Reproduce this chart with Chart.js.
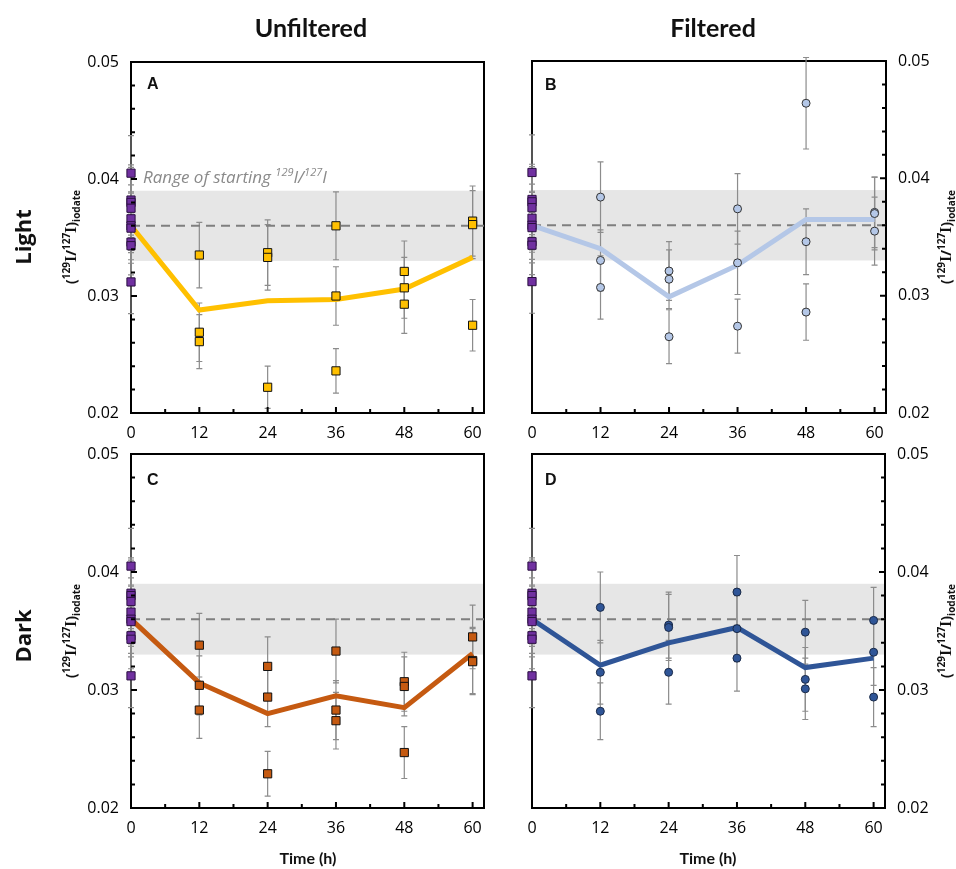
<!DOCTYPE html>
<html>
<head>
<meta charset="utf-8">
<script src="https://cdn.jsdelivr.net/npm/chart.js@4.4.1/dist/chart.umd.min.js"></script>
<style>
body { margin: 0; background: #fff; }
#fig { position: relative; width: 956px; height: 869px; overflow: hidden; font-family: 'Open Sans', sans-serif; color: #111; }
canvas { position: absolute; }
.t { position: absolute; white-space: nowrap; line-height: 1; transform: translate(-50%, -50%); }
.rot { transform: translate(-50%, -50%) rotate(-90deg); }
.head { font-family: Lato, sans-serif; font-weight: 700; font-size: 25px; }
.row { font-family: 'Open Sans', sans-serif; font-weight: 700; font-size: 22px; }
.ytitle { font-family: 'Open Sans', sans-serif; font-weight: 700; font-size: 14px; }
.ytitle sup, .ytitle sub { font-size: 10px; }
.ytitle .i { font-family: 'Liberation Serif', serif; font-size: 16px; }
.xtitle { font-family: Lato, sans-serif; font-weight: 700; font-size: 16px; }
.letter { position: absolute; font-family: 'Liberation Sans', Arial, sans-serif; font-weight: 700; font-size: 16px; line-height: 16px; }
.range { position: absolute; font-style: italic; font-size: 17px; color: #8a8a8a; line-height: 1; white-space: nowrap; }
.range sup { font-size: 11px; }
</style>
</head>
<body>
<div id="fig">
  <canvas id="cA" width="500" height="420" style="left:0;top:40px"></canvas>
  <canvas id="cB" width="456" height="421" style="left:500px;top:39px"></canvas>
  <canvas id="cC" width="500" height="423" style="left:0;top:432px"></canvas>
  <canvas id="cD" width="456" height="423" style="left:500px;top:432px"></canvas>

  <div class="t head" style="left:311px;top:27px">Unfiltered</div>
  <div class="t head" style="left:713px;top:27px">Filtered</div>
  <div class="t row rot" style="left:22px;top:237px">Light</div>
  <div class="t row rot" style="left:22px;top:636px">Dark</div>

  <div class="t ytitle rot" style="left:71px;top:237px">(<sup>129</sup><span class="i">I</span>/<sup>127</sup><span class="i">I</span>)<sub>iodate</sub></div>
  <div class="t ytitle rot" style="left:71px;top:631px">(<sup>129</sup><span class="i">I</span>/<sup>127</sup><span class="i">I</span>)<sub>iodate</sub></div>
  <div class="t ytitle rot" style="left:946px;top:237px">(<sup>129</sup><span class="i">I</span>/<sup>127</sup><span class="i">I</span>)<sub>iodate</sub></div>
  <div class="t ytitle rot" style="left:946px;top:631px">(<sup>129</sup><span class="i">I</span>/<sup>127</sup><span class="i">I</span>)<sub>iodate</sub></div>

  <div class="t xtitle" style="left:308px;top:858px">Time (h)</div>
  <div class="t xtitle" style="left:708px;top:858px">Time (h)</div>

  <div class="letter" style="left:147px;top:76px">A</div>
  <div class="letter" style="left:545px;top:77px">B</div>
  <div class="letter" style="left:147px;top:472px">C</div>
  <div class="letter" style="left:545px;top:472px">D</div>

  <div class="range" style="left:143px;top:166px">Range of starting <sup>129</sup>I/<sup>127</sup>I</div>
</div>

<script>
// time points and axis ticks
const hours = [12, 24, 36, 48, 60];
const meanHours = [0, 12, 24, 36, 48, 60];
const xTicks = [0, 12, 24, 36, 48, 60];
const yTicks = [0.02, 0.03, 0.04, 0.05];

// starting ratios (purple squares at t = 0)
const startVals = [0.0405, 0.0382, 0.0380, 0.0375, 0.0366, 0.0360, 0.0358, 0.0346, 0.0343, 0.0312];
const startErr = [0.0032, 0.0030, 0.0030, 0.0030, 0.0029, 0.0029, 0.0030, 0.0028, 0.0028, 0.0027];
const startMean = 0.036;
const bandRange = [0.033, 0.039];

// A - light, unfiltered
const aVals = [[0.0335, 0.0269, 0.0261], [0.0337, 0.0333, 0.0222], [0.0360, 0.0300, 0.0236], [0.0321, 0.0307, 0.0293], [0.0364, 0.0361, 0.0275]];
const aErr = [[0.0028, 0.0025, 0.0023], [0.0028, 0.0028, 0.0018], [0.0029, 0.0025, 0.0019], [0.0026, 0.0026, 0.0025], [0.0030, 0.0029, 0.0022]];
const aMean = [0.0360, 0.0288, 0.0296, 0.0297, 0.0306, 0.0333];

// B - light, filtered
const bVals = [[0.0384, 0.0330, 0.0307], [0.0321, 0.0314, 0.0265], [0.0374, 0.0328, 0.0274], [0.0464, 0.0346, 0.0286], [0.0371, 0.0370, 0.0355]];
const bErr = [[0.0030, 0.0026, 0.0027], [0.0025, 0.0025, 0.0023], [0.0030, 0.0027, 0.0023], [0.0039, 0.0028, 0.0024], [0.0030, 0.0031, 0.0029]];
const bMean = [0.0360, 0.0340, 0.0299, 0.0326, 0.0365, 0.0365];

// C - dark, unfiltered
const cVals = [[0.0338, 0.0304, 0.0283], [0.0320, 0.0294, 0.0229], [0.0333, 0.0283, 0.0274], [0.0307, 0.0303, 0.0247], [0.0345, 0.0325, 0.0324]];
const cErr = [[0.0027, 0.0025, 0.0024], [0.0025, 0.0025, 0.0019], [0.0027, 0.0025, 0.0024], [0.0025, 0.0025, 0.0022], [0.0027, 0.0028, 0.0028]];
const cMean = [0.0360, 0.0306, 0.0280, 0.0295, 0.0285, 0.0331];

// D - dark, filtered
const dVals = [[0.0370, 0.0315, 0.0282], [0.0355, 0.0353, 0.0315], [0.0383, 0.0352, 0.0327], [0.0349, 0.0309, 0.0301], [0.0359, 0.0332, 0.0294]];
const dErr = [[0.0030, 0.0027, 0.0024], [0.0028, 0.0028, 0.0027], [0.0031, 0.0028, 0.0028], [0.0027, 0.0027, 0.0026], [0.0028, 0.0028, 0.0025]];
const dMean = [0.0360, 0.0321, 0.0340, 0.0353, 0.0319, 0.0327];

const panels = [
  { id: 'cA', vals: aVals, err: aErr, mean: aMean, style: 'rect', r: 5.8, fill: '#ffc000', edge: '#111', line: '#ffc000', side: 'left', yw: 131, pad: { left: 0, right: 16, top: 22, bottom: 0 } },
  { id: 'cB', vals: bVals, err: bErr, mean: bMean, style: 'circle', r: 4, fill: '#b4c7e7', edge: '#333', line: '#b4c7e7', side: 'right', yw: 70, pad: { left: 32, right: 0, top: 22, bottom: 0 } },
  { id: 'cC', vals: cVals, err: cErr, mean: cMean, style: 'rect', r: 5.8, fill: '#c55a11', edge: '#111', line: '#c55a11', side: 'left', yw: 131, pad: { left: 0, right: 16, top: 22, bottom: 0 } },
  { id: 'cD', vals: dVals, err: dErr, mean: dMean, style: 'circle', r: 4, fill: '#2f5597', edge: '#1a2a48', line: '#2f5597', side: 'right', yw: 71, pad: { left: 32, right: 0, top: 22, bottom: 0 } }
];

function decoFor(p) {
  return {
    id: 'deco',
    beforeDatasetsDraw(chart) {
      const { ctx, chartArea: a, scales: { x, y } } = chart;
      ctx.save();
      // grey range band
      const yt = y.getPixelForValue(bandRange[1]);
      const yb = y.getPixelForValue(bandRange[0]);
      ctx.fillStyle = '#e6e6e6';
      ctx.fillRect(a.left, yt, a.right - a.left, yb - yt);
      // frame
      ctx.strokeStyle = '#000';
      ctx.lineWidth = 2;
      ctx.strokeRect(a.left, a.top, a.right - a.left, a.bottom - a.top);
      // error bars
      ctx.strokeStyle = '#8c8c8c';
      ctx.lineWidth = 1.2;
      const bar = (xv, v, e) => {
        const px = x.getPixelForValue(xv);
        const p1 = y.getPixelForValue(v + e), p2 = y.getPixelForValue(v - e);
        ctx.beginPath();
        ctx.moveTo(px, p1); ctx.lineTo(px, p2);
        ctx.moveTo(px - 3, p1); ctx.lineTo(px + 3, p1);
        ctx.moveTo(px - 3, p2); ctx.lineTo(px + 3, p2);
        ctx.stroke();
      };
      startVals.forEach((v, i) => bar(0, v, startErr[i]));
      hours.forEach((h, i) => p.vals[i].forEach((v, j) => bar(h, v, p.err[i][j])));
      ctx.restore();
    },
    afterDraw(chart) {
      const { ctx, chartArea: a, scales: { x, y } } = chart;
      ctx.save();
      ctx.strokeStyle = '#000';
      ctx.lineWidth = 2;
      ctx.beginPath();
      // y ticks, pointing inward
      const x0 = p.side === 'left' ? a.left : a.right;
      const dir = p.side === 'left' ? 1 : -1;
      for (let k = 1; k < 15; k++) {
        const py = y.getPixelForValue(0.02 + k * 0.002);
        const len = k % 5 === 0 ? 6 : 4;
        ctx.moveTo(x0, py); ctx.lineTo(x0 + dir * len, py);
      }
      // x ticks, pointing up
      for (let h = 6; h <= 60; h += 6) {
        const px = x.getPixelForValue(h);
        const len = h % 12 === 0 ? 6 : 4;
        ctx.moveTo(px, a.bottom); ctx.lineTo(px, a.bottom - len);
      }
      ctx.stroke();
      ctx.restore();
    }
  };
}

panels.forEach(p => {
  const pts = [];
  hours.forEach((h, i) => p.vals[i].forEach(v => pts.push({ x: h, y: v })));
  new Chart(document.getElementById(p.id), {
    type: 'scatter',
    data: {
      datasets: [
        { data: pts, pointStyle: p.style, pointRadius: p.r, backgroundColor: p.fill, borderColor: p.edge, borderWidth: 1, order: 0, clip: false },
        { data: startVals.map(v => ({ x: 0, y: v })), pointStyle: 'rect', pointRadius: 5.8, backgroundColor: '#7030a0', borderColor: '#2a0f40', borderWidth: 1, order: 1, clip: false },
        { data: meanHours.map((h, i) => ({ x: h, y: p.mean[i] })), showLine: true, borderColor: p.line, borderWidth: 5, pointRadius: 0, order: 2, clip: false },
        { data: [{ x: 0, y: startMean }, { x: 62, y: startMean }], showLine: true, borderColor: '#7f7f7f', borderWidth: 2, borderDash: [9, 6], pointRadius: 0, order: 3 }
      ]
    },
    options: {
      responsive: false,
      animation: false,
      events: [],
      layout: { padding: p.pad },
      plugins: { legend: { display: false }, tooltip: { enabled: false } },
      scales: {
        x: {
          type: 'linear', min: 0, max: 62,
          grid: { display: false, drawTicks: false },
          border: { display: false },
          afterBuildTicks: s => { s.ticks = xTicks.map(v => ({ value: v })); },
          afterFit: s => { s.height = 47; },
          ticks: { padding: 11, color: '#000', font: { family: 'Open Sans', size: 16 }, maxRotation: 0, callback: v => v }
        },
        y: {
          type: 'linear', position: p.side, min: 0.02, max: 0.05,
          grid: { display: false, drawTicks: false },
          border: { display: false },
          afterBuildTicks: s => { s.ticks = yTicks.map(v => ({ value: v })); },
          afterFit: s => { s.width = p.yw; },
          ticks: { padding: 12, color: '#000', font: { family: 'Open Sans', size: 16 }, callback: v => v.toFixed(2) }
        }
      }
    },
    plugins: [decoFor(p)]
  });
});
</script>
</body>
</html>
